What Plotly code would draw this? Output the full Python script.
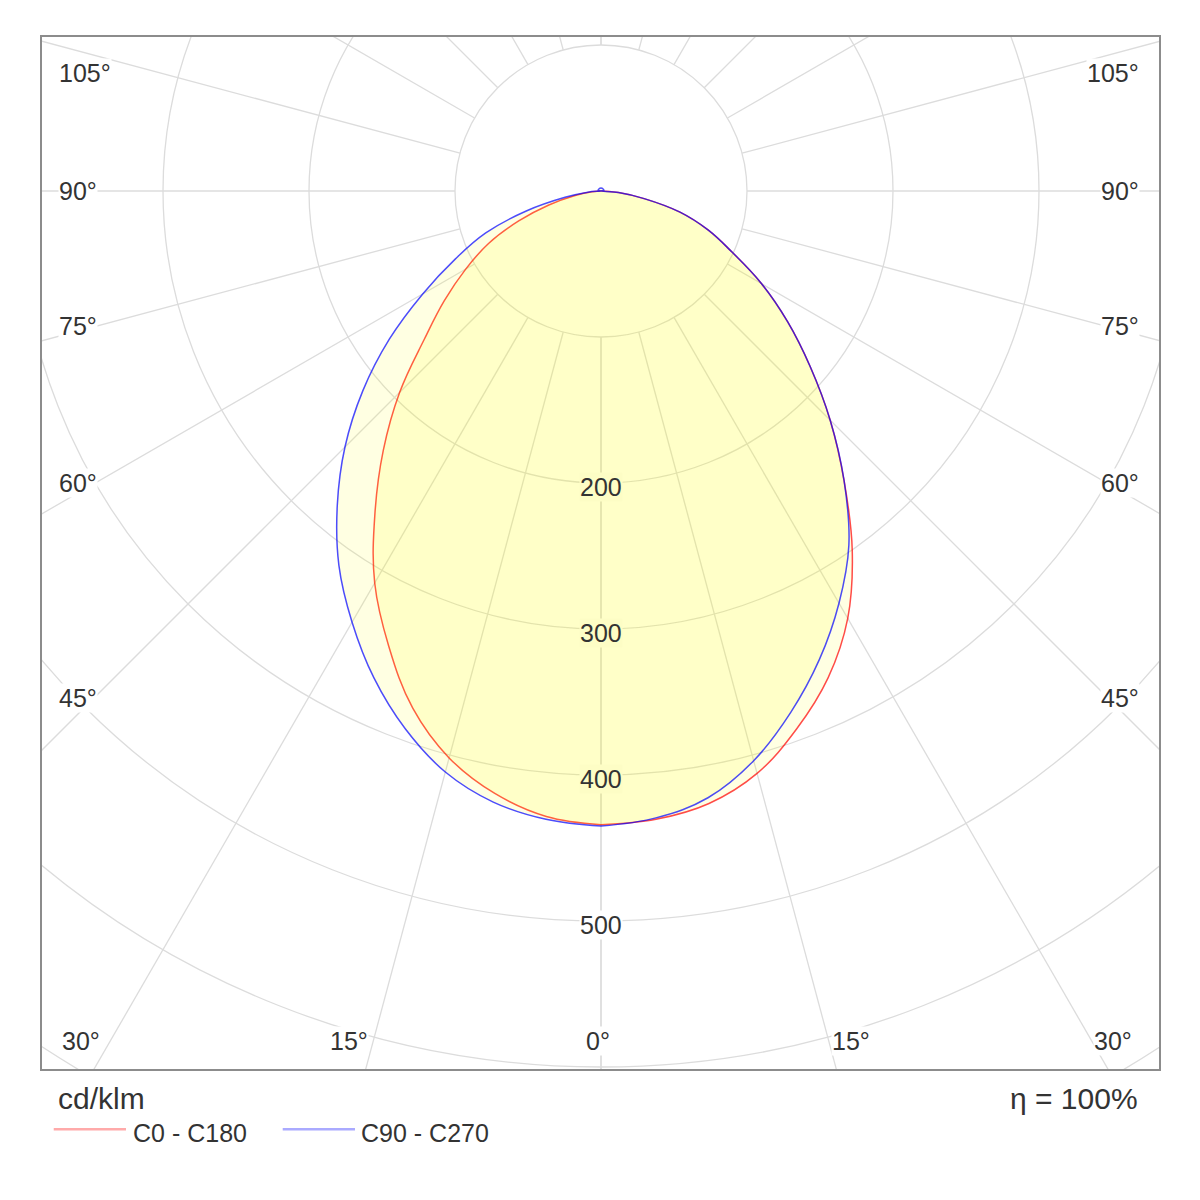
import numpy as np
import plotly.graph_objects as go

# Luminous intensity distribution, cd/klm, gamma measured from nadir
gamma = [0, 5, 10, 15, 20, 25, 30, 35, 40, 45, 50, 55, 60, 65, 70, 75, 80, 85, 90]
c0 = [434, 432, 426, 413, 392, 368, 338, 300, 259, 222, 187, 156, 127, 99, 78, 56, 30, 12, 0]
c180 = [434, 430, 419, 402, 377, 344, 310, 270, 232, 195, 158, 131, 107, 85, 60, 37, 18, 6, 0]
c90 = [435, 431, 422, 404, 380, 354, 326, 296, 259, 222, 187, 156, 127, 99, 78, 56, 30, 12, 0]
c270 = [435, 432, 425, 412, 392, 368, 341, 313, 281, 248, 213, 177, 141, 110, 84, 53, 25, 9, 0]

# small upward component of the C90 - C270 plane
gamma_up = [100, 120, 140, 160, 180]
c90_up = [2, 2, 2, 2, 2]
c270_up = [2, 2, 2, 2, 2]

radii = [100, 200, 300, 400, 500, 600, 700]
radius_labels = [200, 300, 400, 500]
spoke_angles = [0, 15, 30, 45, 60, 75, 90, 105, 120, 135, 150, 165, 180]

FONT = "Liberation Sans, Arial, sans-serif"
TEXT = "#333333"
GRID = "#dcdcdc"


def plane_xy(left, right, gam):
    g = np.radians(gam)
    left = np.asarray(left, dtype=float)
    right = np.asarray(right, dtype=float)
    xl = -(left * np.sin(g))[::-1]
    yl = -(left * np.cos(g))[::-1]
    xr = right * np.sin(g)
    yr = -right * np.cos(g)
    return np.concatenate([xl, xr]), np.concatenate([yl, yr])


fig = go.Figure()

# grid circles and spokes
shapes = []
for r in radii:
    shapes.append(dict(type="circle", xref="x", yref="y", x0=-r, y0=-r, x1=r, y1=r,
                       line=dict(color=GRID, width=1.3), layer="below"))
for a in spoke_angles:
    t = np.radians(a)
    for s in (-1, 1):
        shapes.append(dict(type="line", xref="x", yref="y",
                           x0=s * 100 * np.sin(t), y0=-100 * np.cos(t),
                           x1=s * 900 * np.sin(t), y1=-900 * np.cos(t),
                           line=dict(color=GRID, width=1.3), layer="below"))

# C0 - C180
x_red, y_red = plane_xy(c180, c0, gamma)
fig.add_trace(go.Scatter(x=x_red, y=y_red, mode="lines", name="C0 - C180",
                         line=dict(color="rgba(255,0,0,0.7)", width=1.5, shape="spline", smoothing=1.1),
                         fill="toself", fillcolor="rgba(255,255,0,0.115)", hoverinfo="skip"))

# C90 - C270
gam_b = gamma + gamma_up
x_blue, y_blue = plane_xy(c270 + c270_up, c90 + c90_up, gam_b)
fig.add_trace(go.Scatter(x=x_blue, y=y_blue, mode="lines", name="C90 - C270",
                         line=dict(color="rgba(0,0,255,0.7)", width=1.5, shape="spline", smoothing=1.1),
                         fill="toself", fillcolor="rgba(255,255,0,0.115)", hoverinfo="skip"))

annotations = []
lab_font = dict(family=FONT, size=25, color=TEXT)

# radius labels on the nadir axis
for r in radius_labels:
    bg = "#fdfdc5" if r < 450 else "white"
    annotations.append(dict(x=0, y=-r - 3, xref="x", yref="y", text=str(r), showarrow=False,
                            font=lab_font, bgcolor=bg, borderpad=0))

# angle labels along the sides
side_labels = [("105°", 81), ("90°", 0), ("75°", -92.5), ("60°", -200), ("45°", -347)]
for txt, yy in side_labels:
    annotations.append(dict(x=-372, y=yy, xref="x", yref="y", text=txt, showarrow=False,
                            xanchor="left", font=lab_font, bgcolor="white", borderpad=0))
    annotations.append(dict(x=369, y=yy, xref="x", yref="y", text=txt, showarrow=False,
                            xanchor="right", font=lab_font, bgcolor="white", borderpad=0))

# angle labels along the bottom
bottom_labels = [("30°", -356), ("15°", -172.6), ("0°", -2), ("15°", 171.2), ("30°", 350.7)]
for txt, xx in bottom_labels:
    annotations.append(dict(x=xx, y=-582, xref="x", yref="y", text=txt, showarrow=False,
                            font=lab_font, bgcolor="white", borderpad=0))

# units, efficiency and legend below the frame
annotations.append(dict(x=0.0125, y=-0.029, xref="paper", yref="paper", text="cd/klm",
                        showarrow=False, xanchor="left", yanchor="middle",
                        font=dict(family=FONT, size=30, color=TEXT)))
annotations.append(dict(x=0.983, y=-0.029, xref="paper", yref="paper", text="η = 100%",
                        showarrow=False, xanchor="right", yanchor="middle",
                        font=dict(family=FONT, size=30, color=TEXT)))
annotations.append(dict(x=0.080, y=-0.0617, xref="paper", yref="paper", text="C0 - C180",
                        showarrow=False, xanchor="left", yanchor="middle", font=lab_font))
annotations.append(dict(x=0.284, y=-0.0617, xref="paper", yref="paper", text="C90 - C270",
                        showarrow=False, xanchor="left", yanchor="middle", font=lab_font))
shapes.append(dict(type="line", xref="paper", yref="paper", x0=0.0105, x1=0.0752,
                   y0=-0.0584, y1=-0.0584, line=dict(color="#ffaaaa", width=2.5)))
shapes.append(dict(type="line", xref="paper", yref="paper", x0=0.2155, x1=0.2802,
                   y0=-0.0584, y1=-0.0584, line=dict(color="#aaaaff", width=2.5)))

fig.update_layout(
    width=1200, height=1200,
    margin=dict(l=34, r=49, t=29, b=139),
    paper_bgcolor="white", plot_bgcolor="white",
    showlegend=False,
    shapes=shapes,
    annotations=annotations,
)
fig.update_xaxes(range=[-382.88, 382.19], showgrid=False, zeroline=False, showticklabels=False,
                 ticks="", showline=True, mirror=True, linecolor="#8c8c8c", linewidth=2, fixedrange=True)
fig.update_yaxes(range=[-601.37, 105.48], showgrid=False, zeroline=False, showticklabels=False,
                 ticks="", showline=True, mirror=True, linecolor="#8c8c8c", linewidth=2, fixedrange=True)

fig.write_html("out.html")
